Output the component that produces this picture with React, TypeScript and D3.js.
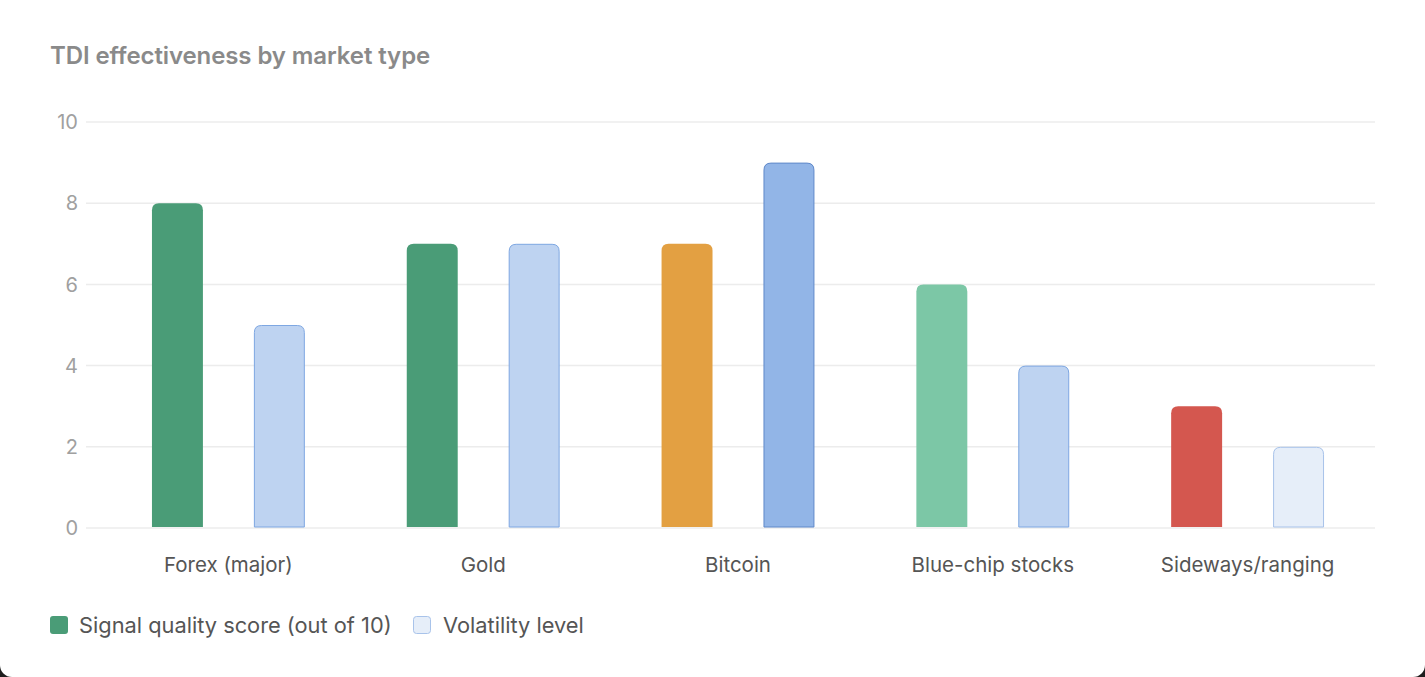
import React from "react";
import * as d3 from "d3";

const categories = ["Forex (major)", "Gold", "Bitcoin", "Blue-chip stocks", "Sideways/ranging"];
const signalScores = [8, 7, 7, 6, 3];
const volatilityLevels = [5, 7, 9, 4, 2];
const signalColors = ["#4a9c77", "#4a9c77", "#e3a042", "#7cc7a6", "#d4574f"];
const volatilityFills = ["#bed3f1", "#bed3f1", "#92b5e7", "#bed3f1", "#e6eef9"];
const volatilityStrokes = ["#7ea7e2", "#7ea7e2", "#5f88c9", "#7ea7e2", "#a8c3ea"];
const yTicks = [0, 2, 4, 6, 8, 10];
const seriesNames = ["Signal quality score (out of 10)", "Volatility level"];

const W = 1425;
const H = 677;
const FONT = "Inter, 'Noto Sans', sans-serif";

function topRoundedRect(x: number, y: number, w: number, h: number, r: number) {
  const rr = Math.min(r, h, w / 2);
  return `M${x},${y + h}V${y + rr}Q${x},${y} ${x + rr},${y}H${x + w - rr}Q${x + w},${y} ${x + w},${y + rr}V${y + h}Z`;
}

export default function App() {
  const x = d3.scaleBand<string>().domain(categories).range([101, 1375]).paddingInner(0.4).paddingOuter(0.2);
  const inner = d3.scaleBand<number>().domain([0, 1]).range([0, x.bandwidth()]).paddingInner(0.5);
  const y = d3.scaleLinear().domain([0, 10]).range([528, 122]);
  const gridX0 = 86;
  const gridX1 = 1375;

  return (
    <svg width={W} height={H} style={{ position: "absolute", left: 0, top: 0, display: "block" }}>
      <rect x={0} y={0} width={W} height={H} fill="#1e1e1e" />
      <rect x={0} y={-20} width={W} height={H + 20} rx={12} ry={12} fill="#ffffff" />
      <text x={50} y={64} fontFamily={FONT} fontSize={24} fontWeight={600} fill="#8a8a8a" letterSpacing={-0.1}>
        TDI effectiveness by market type
      </text>
      {yTicks.map((t) => (
        <g key={t}>
          <line x1={gridX0} x2={gridX1} y1={y(t)} y2={y(t)} stroke="#ececec" strokeWidth={1.5} />
          <text x={78} y={y(t)} dy="0.36em" textAnchor="end" fontFamily={FONT} fontSize={20} fill="#a0a0a0">
            {t}
          </text>
        </g>
      ))}
      {categories.map((c, i) => {
        const gx = x(c) as number;
        const x0 = gx + (inner(0) as number);
        const x1 = gx + (inner(1) as number);
        const bw = inner.bandwidth();
        const ys = y(signalScores[i]);
        const yv = y(volatilityLevels[i]);
        return (
          <g key={c}>
            <path d={topRoundedRect(x0, ys, bw, y(0) - 1 - ys, 7)} fill={signalColors[i]} />
            <path
              d={topRoundedRect(x1 + 0.5, yv + 0.5, bw - 1, y(0) - 1.5 - yv, 7)}
              fill={volatilityFills[i]}
              stroke={volatilityStrokes[i]}
              strokeWidth={1}
            />
            <text
              x={gx + x.bandwidth() / 2}
              y={572}
              textAnchor="middle"
              fontFamily={FONT}
              fontSize={20.5}
              fill="#555555"
            >
              {c}
            </text>
          </g>
        );
      })}
      <g>
        <rect x={50} y={616} width={18} height={18} rx={3} fill="#4a9c77" />
        <text x={79} y={633} fontFamily={FONT} fontSize={21.8} fill="#555555">
          {seriesNames[0]}
        </text>
        <rect x={413.5} y={616.5} width={17} height={17} rx={3} fill="#e6eef9" stroke="#a8c3ea" />
        <text x={443} y={633} fontFamily={FONT} fontSize={21.8} fill="#555555">
          {seriesNames[1]}
        </text>
      </g>
    </svg>
  );
}
